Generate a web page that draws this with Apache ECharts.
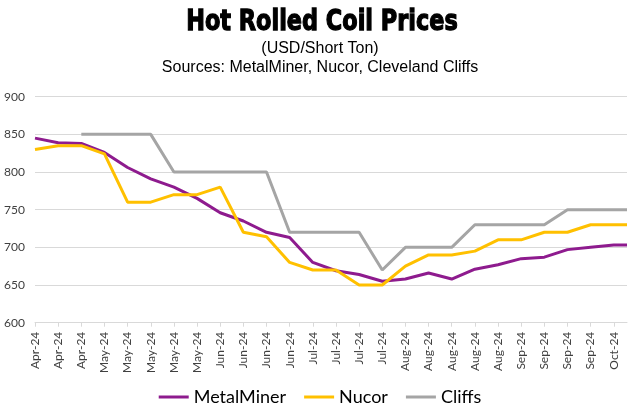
<!DOCTYPE html>
<html>
<head>
<meta charset="utf-8">
<script src="https://cdn.jsdelivr.net/npm/echarts@6/dist/echarts.min.js"></script>
<style>html,body{margin:0;padding:0;background:#fff}#c{width:640px;height:417px}</style>
</head>
<body>
<div id="c"></div>
<script>
// Weekly observation dates; final point is a few days after the last labelled week
const dates = [
  '2024-04-12','2024-04-19','2024-04-26',
  '2024-05-03','2024-05-10','2024-05-17','2024-05-24','2024-05-31',
  '2024-06-07','2024-06-14','2024-06-21','2024-06-28',
  '2024-07-05','2024-07-12','2024-07-19','2024-07-26',
  '2024-08-02','2024-08-09','2024-08-16','2024-08-23','2024-08-30',
  '2024-09-06','2024-09-13','2024-09-20','2024-09-27',
  '2024-10-04','2024-10-08'
];
const tickLabels = [
  'Apr-24','Apr-24','Apr-24',
  'May-24','May-24','May-24','May-24','May-24',
  'Jun-24','Jun-24','Jun-24','Jun-24',
  'Jul-24','Jul-24','Jul-24','Jul-24',
  'Aug-24','Aug-24','Aug-24','Aug-24','Aug-24',
  'Sep-24','Sep-24','Sep-24','Sep-24',
  'Oct-24'
];
const metalMiner = [845,839,838,826,806,791,780,765,746,735,720,713,680,669,664,655,658,666,658,671,677,685,687,697,700,703,703];
const nucor      = [830,835,835,824,760,760,770,770,780,720,714,680,670,670,650,650,675,690,690,695,710,710,720,720,730,730,730];
const cliffs     = [null,null,850,850,850,850,800,800,800,800,800,720,720,720,720,670,700,700,700,730,730,730,730,750,750,750,750];
const yTicks = [600,650,700,750,800,850,900];

// day offsets from the first observation
const t0 = Date.parse(dates[0] + 'T00:00:00Z');
const days = dates.map(d => Math.round((Date.parse(d + 'T00:00:00Z') - t0) / 86400000));
const tickDays = days.slice(0, tickLabels.length);
const pairs = arr => days.map((t, i) => [t, arr[i]]);

const chart = echarts.init(document.getElementById('c'), null, {renderer: 'canvas'});
const font = 'Lato';
chart.setOption({
  animation: false,
  backgroundColor: '#fff',
  graphic: [
    {type: 'text', x: 322, y: 23, scaleX: 0.8,
     style: {text: 'Hot Rolled Coil Prices', font: 'bold 28px "DejaVu Sans"', fill: '#000', stroke: '#000', lineWidth: 1.3, align: 'center', verticalAlign: 'middle'}},
    {type: 'text', x: 320, y: 49,
     style: {text: '(USD/Short Ton)', font: '16px "Liberation Sans"', fill: '#000', align: 'center', verticalAlign: 'middle'}},
    {type: 'text', x: 320, y: 68,
     style: {text: 'Sources: MetalMiner, Nucor, Cleveland Cliffs', font: '16px "Liberation Sans"', fill: '#000', align: 'center', verticalAlign: 'middle'}}
  ],
  grid: {left: 35, right: 13, top: 96.7, bottom: 94.3},
  legend: {
    data: ['MetalMiner', 'Nucor', 'Cliffs'],
    left: 'center', top: 383,
    icon: 'rect', itemWidth: 30, itemHeight: 3, itemGap: 18,
    textStyle: {fontFamily: font, fontSize: 18, color: '#000'}
  },
  xAxis: {
    type: 'value',
    min: days[0], max: days[days.length - 1],
    splitLine: {show: false},
    axisLine: {show: true, lineStyle: {color: '#D9D9D9', width: 1}},
    axisTick: {show: true, customValues: tickDays, length: 4, lineStyle: {color: '#D9D9D9'}},
    axisLabel: {
      customValues: tickDays, rotate: 90, margin: 9, hideOverlap: false,
      fontFamily: font, fontSize: 12, color: '#404040',
      formatter: v => { const i = tickDays.indexOf(v); return i >= 0 ? tickLabels[i] : ''; }
    }
  },
  yAxis: {
    type: 'value', min: yTicks[0], max: yTicks[yTicks.length - 1], interval: 50,
    axisLine: {show: false}, axisTick: {show: false},
    splitLine: {lineStyle: {color: '#D9D9D9', width: 1}},
    axisLabel: {fontFamily: font, fontSize: 12, color: '#404040', margin: 10}
  },
  series: [
    {name: 'MetalMiner', type: 'line', data: pairs(metalMiner), symbol: 'none', lineStyle: {width: 3, color: '#8E1B8E'}, itemStyle: {color: '#8E1B8E'}},
    {name: 'Nucor', type: 'line', data: pairs(nucor), symbol: 'none', lineStyle: {width: 3, color: '#FFC000'}, itemStyle: {color: '#FFC000'}},
    {name: 'Cliffs', type: 'line', data: pairs(cliffs), symbol: 'none', lineStyle: {width: 3, color: '#A5A5A5'}, itemStyle: {color: '#A5A5A5'}}
  ]
});
</script>
</body>
</html>
